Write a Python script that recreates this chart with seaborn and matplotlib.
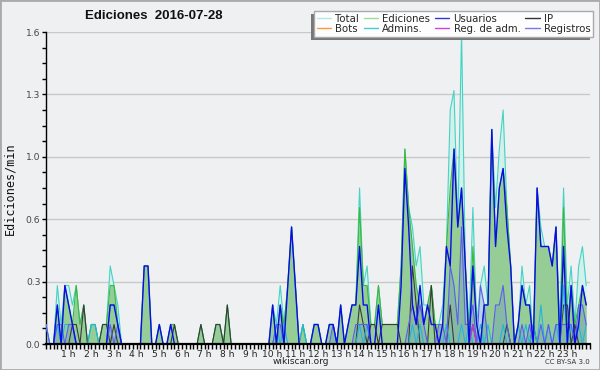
import numpy as np
import pandas as pd
import matplotlib
matplotlib.use("Agg")
import matplotlib.pyplot as plt
from matplotlib.lines import Line2D
from matplotlib.patches import Rectangle
from matplotlib.ticker import MultipleLocator
import seaborn as sns

sns.set_theme(style="white")
plt.rcParams['font.family'] = ['DejaVu Sans']

# Ediciones por minuto, en tramos de 10 minutos (00:00 ... 23:50)

total = [0.1, 0, 0, 0.3, 0.1, 0.3,   0.3, 0.2, 0.3, 0.1, 0.2, 0,
         0.1, 0.1, 0, 0.1, 0.1, 0.4,  0.3, 0.2, 0, 0, 0, 0,
         0, 0, 0.4, 0.4, 0, 0,        0.1, 0, 0, 0.1, 0.1, 0,
         0, 0, 0, 0, 0, 0.1,          0, 0, 0, 0.1, 0.1, 0,
         0.2, 0, 0, 0, 0, 0,          0, 0, 0, 0, 0, 0,
         0.2, 0.1, 0.3, 0.1, 0.3, 0.6, 0.3, 0, 0.1, 0, 0, 0.1,
         0.1, 0, 0, 0.1, 0.1, 0,      0.2, 0, 0.1, 0.2, 0.2, 0.8,
         0.3, 0.4, 0.1, 0.1, 0.3, 0.1, 0.1, 0.1, 0.1, 0.1, 0.4, 1.0,
         0.7, 0.6, 0.4, 0.5, 0.2, 0.2, 0.3, 0.1, 0.1, 0.2, 0.5, 1.2,
         1.3, 0.6, 1.6, 0.4, 0.1, 0.7, 0.1, 0.3, 0.4, 0.2, 1.1, 0.7,
         1.0, 1.2, 0.7, 0.4, 0, 0.1,  0.4, 0.2, 0.3, 0, 0.8, 0.6,
         0.5, 0.5, 0.4, 0.6, 0.1, 0.8, 0.2, 0.4, 0.1, 0.4, 0.5, 0.3]

ediciones = [0, 0, 0, 0.2, 0, 0.3,   0.2, 0.1, 0.3, 0.1, 0.2, 0,
             0.1, 0.1, 0, 0.1, 0.1, 0.3,  0.3, 0.1, 0, 0, 0, 0,
             0, 0, 0.4, 0.4, 0, 0,        0.1, 0, 0, 0.1, 0.1, 0,
             0, 0, 0, 0, 0, 0.1,          0, 0, 0, 0.1, 0.1, 0,
             0.2, 0, 0, 0, 0, 0,          0, 0, 0, 0, 0, 0,
             0.2, 0, 0.2, 0.1, 0.3, 0.6,  0.3, 0, 0.1, 0, 0, 0.1,
             0.1, 0, 0, 0.1, 0.1, 0,      0.2, 0, 0.1, 0.2, 0.2, 0.7,
             0.3, 0.3, 0.1, 0.1, 0.3, 0.1, 0.1, 0.1, 0.1, 0.1, 0.4, 1.0,
             0.7, 0.5, 0.3, 0.2, 0.1, 0.2, 0.3, 0.1, 0.1, 0.1, 0.5, 0.8,
             1.0, 0.6, 0.8, 0.4, 0, 0.5,  0.1, 0, 0.2, 0.2, 1.1, 0.5,
             0.8, 0.9, 0.7, 0.4, 0, 0.1,  0.3, 0.2, 0.2, 0, 0.8, 0.5,
             0.5, 0.5, 0.4, 0.6, 0, 0.7,  0.1, 0.3, 0.1, 0.2, 0.3, 0.2]

usuarios = [0, 0, 0, 0.2, 0, 0.3,   0.2, 0.1, 0, 0, 0, 0,
            0, 0, 0, 0, 0, 0.2,      0.2, 0.1, 0, 0, 0, 0,
            0, 0, 0.4, 0.4, 0, 0,    0.1, 0, 0, 0.1, 0, 0,
            0, 0, 0, 0, 0, 0,        0, 0, 0, 0, 0, 0,
            0, 0, 0, 0, 0, 0,        0, 0, 0, 0, 0, 0,
            0.2, 0, 0.2, 0, 0.3, 0.6, 0.3, 0, 0, 0, 0, 0.1,
            0.1, 0, 0, 0.1, 0.1, 0,  0.2, 0, 0.1, 0.2, 0.2, 0.5,
            0.2, 0.2, 0, 0, 0.2, 0,  0, 0, 0, 0, 0.3, 0.9,
            0.6, 0.2, 0.1, 0.3, 0.1, 0.2, 0.1, 0.1, 0, 0.1, 0.5, 0.4,
            1.0, 0.6, 0.8, 0.4, 0, 0.4, 0.1, 0, 0.2, 0.2, 1.1, 0.5,
            0.8, 0.9, 0.6, 0.4, 0, 0.1, 0.3, 0.2, 0.2, 0, 0.8, 0.5,
            0.5, 0.5, 0.4, 0.6, 0, 0.5, 0, 0.3, 0, 0.1, 0.3, 0.2]

ip = [0, 0, 0, 0, 0, 0,       0, 0.1, 0.1, 0, 0.2, 0,
      0, 0, 0, 0.1, 0.1, 0,   0.1, 0, 0, 0, 0, 0,
      0, 0, 0, 0, 0, 0,       0, 0, 0, 0, 0.1, 0,
      0, 0, 0, 0, 0, 0.1,     0, 0, 0, 0.1, 0.1, 0,
      0.2, 0, 0, 0, 0, 0,     0, 0, 0, 0, 0, 0,
      0, 0, 0, 0, 0, 0,       0, 0, 0, 0, 0, 0,
      0, 0, 0, 0, 0, 0,       0, 0, 0, 0, 0, 0.2,
      0.1, 0, 0.1, 0.1, 0, 0.1, 0.1, 0.1, 0.1, 0.1, 0, 0,
      0, 0.4, 0.2, 0, 0, 0,   0.3, 0, 0, 0, 0, 0.2,
      0, 0, 0, 0, 0, 0.1,     0, 0, 0, 0, 0, 0,
      0, 0, 0.1, 0, 0, 0,     0, 0, 0, 0.1, 0, 0,
      0, 0, 0, 0, 0, 0.2,     0.2, 0, 0.1, 0, 0, 0]

bots = [0] * 144

admins = [0.1, 0, 0, 0.1, 0, 0.1,   0.1, 0.1, 0, 0, 0, 0,
          0.1, 0.1, 0, 0, 0, 0.2,    0.2, 0.1, 0, 0, 0, 0,
          0, 0, 0, 0, 0, 0,          0, 0, 0, 0, 0, 0,
          0, 0, 0, 0, 0, 0,          0, 0, 0, 0, 0, 0,
          0, 0, 0, 0, 0, 0,          0, 0, 0, 0, 0, 0,
          0, 0.1, 0, 0.1, 0, 0,      0, 0, 0.1, 0, 0, 0,
          0, 0, 0, 0, 0, 0,          0, 0, 0, 0, 0, 0.1,
          0, 0.1, 0, 0, 0, 0,        0, 0, 0, 0, 0, 0,
          0, 0.1, 0, 0.1, 0, 0,      0, 0, 0, 0, 0.1, 0,
          0, 0, 0.1, 0, 0.1, 0,      0, 0.1, 0, 0.1, 0, 0,
          0, 0.1, 0, 0, 0, 0.1,      0, 0.1, 0, 0.1, 0, 0.2,
          0, 0.1, 0, 0.1, 0, 0.3,    0, 0.1, 0, 0.1, 0, 0.1]

reg_adm = [0] * 113 + [0.1] + [0] * 30

registros = [0.1, 0, 0, 0.1, 0.1, 0,  0.1, 0.1, 0, 0, 0, 0,
             0, 0, 0, 0, 0, 0.1,      0, 0.1, 0, 0, 0, 0,
             0, 0, 0, 0, 0, 0,        0, 0, 0, 0, 0, 0,
             0, 0, 0, 0, 0, 0,        0, 0, 0, 0, 0, 0,
             0, 0, 0, 0, 0, 0,        0, 0, 0, 0, 0, 0,
             0, 0.1, 0.1, 0, 0, 0,    0, 0, 0, 0, 0, 0,
             0, 0, 0, 0, 0.1, 0,      0, 0, 0, 0, 0.1, 0.1,
             0.1, 0.1, 0, 0, 0, 0,    0, 0, 0, 0, 0, 0,
             0.1, 0.2, 0.1, 0.2, 0.1, 0, 0, 0, 0.1, 0.1, 0, 0.4,
             0.3, 0.1, 0.6, 0.1, 0.1, 0.2, 0, 0.3, 0.2, 0, 0, 0.2,
             0.2, 0.3, 0.1, 0, 0, 0,  0.1, 0, 0.1, 0, 0, 0.1,
             0, 0.1, 0, 0.1, 0.1, 0.1, 0.1, 0.1, 0, 0.2, 0.2, 0.1]

horas = np.arange(0, 1440, 10) / 60

df = pd.DataFrame({'hora': horas, 'Total': total, 'Ediciones': ediciones,
                   'Usuarios': usuarios, 'IP': ip, 'Bots': bots,
                   'Admins.': admins, 'Reg. de adm.': reg_adm,
                   'Registros': registros})

fondo = '#eff0f1'
fig = plt.figure(figsize=(6, 3.7), dpi=100, facecolor=fondo)
ax = fig.add_axes([46/600, 1 - 344/370, 544/600, 312/370])
ax.set_facecolor(fondo)

# áreas
ax.fill_between(df['hora'], df['Total'], color='#d3f1ec', lw=0, zorder=1)
ax.fill_between(df['hora'], df['Ediciones'], color='#96cd96', lw=0, zorder=2)
ax.fill_between(df['hora'], df['Registros'], color='#5a7fd0', alpha=0.25, lw=0, zorder=3)

# líneas
series = [('Bots', '#ff9933', 0.8, 3.5),
          ('Total', '#45d3c5', 0.8, 4),
          ('Ediciones', '#3cb83c', 0.8, 5),
          ('IP', '#3a3a3a', 0.8, 6),
          ('Admins.', '#22b5dd', 0.8, 7),
          ('Registros', '#5c5cf0', 0.8, 8),
          ('Reg. de adm.', '#cc33dd', 0.8, 9),
          ('Usuarios', '#0b0bea', 1.0, 10)]
for nombre, color, grosor, z in series:
    sns.lineplot(data=df, x='hora', y=nombre, color=color, lw=grosor,
                 ax=ax, zorder=z, legend=False)

ax.set_xlim(0, 24)
ax.set_ylim(0, 1.6)
ax.set_xlabel('')
ax.set_ylabel('')

yt = np.linspace(0, 1.6, 6)
ax.set_yticks(yt)
ax.set_yticklabels([f'{v:.1f}' for v in yt])
ax.yaxis.set_minor_locator(MultipleLocator(0.08))
ax.set_xticks(range(1, 24))
ax.set_xticklabels([f'{h} h' for h in range(1, 24)])
ax.xaxis.set_minor_locator(MultipleLocator(1/6))

ax.tick_params(axis='x', which='both', direction='out', length=3.5, width=1,
               color='black', labelsize=6.6, pad=0.5, labelcolor='#222222',
               bottom=True)
ax.tick_params(axis='y', which='both', direction='out', length=3, width=1,
               color='black', labelsize=6.6, pad=1, labelcolor='#444444',
               left=True)

ax.grid(axis='y', color='#c9c9c9', lw=1, zorder=0.5)
ax.grid(axis='x', visible=False)
ax.set_axisbelow(True)
for lado in ['top', 'right']:
    ax.spines[lado].set_visible(False)
ax.spines['left'].set_color('black')
ax.spines['left'].set_linewidth(1)
ax.spines['bottom'].set_color('black')
ax.spines['bottom'].set_linewidth(1.6)
ax.spines['bottom'].set_zorder(20)

# textos
fig.text(85/600, 1 - 16/370, 'Ediciones  2016-07-28', fontsize=9.5,
         fontweight='bold', family='Liberation Sans', va='center', ha='left',
         color='#111111')
fig.text(10/600, 1 - 189/370, 'Ediciones/min', rotation=90, fontsize=8.5,
         family='DejaVu Sans Mono', va='center', ha='center', color='#111111')
fig.text(301/600, 1 - 362/370, 'wikiscan.org', fontsize=6.5, ha='center',
         va='center', color='#222222')
fig.text(590/600, 1 - 362/370, 'CC BY-SA 3.0', fontsize=5, ha='right',
         va='center', color='#333333')

# leyenda
colores_ley = {'Total': '#b2e8e0', 'Ediciones': '#99dd99', 'Usuarios': '#3333dd',
               'IP': '#333333', 'Bots': '#ff9933', 'Admins.': '#44ccdd',
               'Reg. de adm.': '#cc44dd', 'Registros': '#7777ee'}
orden = ['Total', 'Bots', 'Ediciones', 'Admins.', 'Usuarios', 'Reg. de adm.',
         'IP', 'Registros']
handles = [Line2D([], [], color=colores_ley[n], lw=1) for n in orden]
leg = fig.legend(handles, orden, ncol=4, loc='upper right',
                 bbox_to_anchor=(593/600, 1 - 11/370), fontsize=7.3,
                 frameon=True, fancybox=False, edgecolor='#aaaaaa',
                 facecolor='#fdfdfd', framealpha=1, borderpad=0.25,
                 labelspacing=0.05, handlelength=1.4, handletextpad=0.4,
                 columnspacing=0.5, borderaxespad=0)
leg.get_frame().set_linewidth(1)
leg.set_zorder(30)

fig.canvas.draw()
bb = leg.get_window_extent()
fig.add_artist(Rectangle((bb.x0 - 3, bb.y0 - 3), bb.width, bb.height,
                         transform=None, facecolor='#777777', lw=0, zorder=29))

fig.add_artist(Rectangle((0, 0), 1, 1, transform=fig.transFigure, fill=False,
                         edgecolor='#aaaaaa', lw=2, zorder=40))

fig.savefig('out.png', dpi=100, facecolor=fondo)
